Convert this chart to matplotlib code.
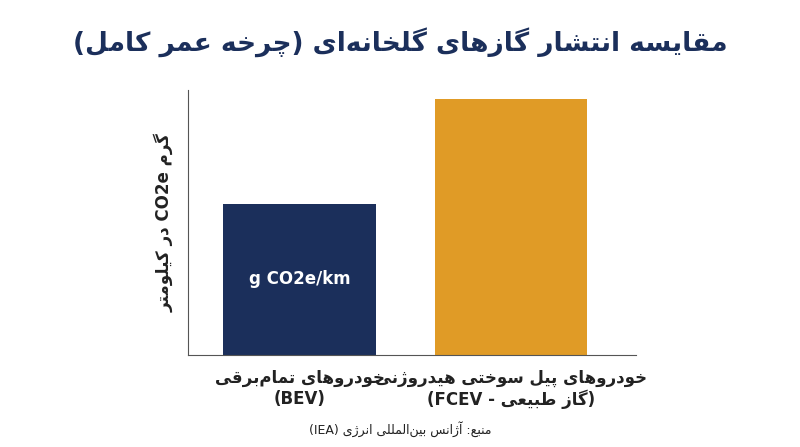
import re
import matplotlib
matplotlib.use("Agg")
import matplotlib.pyplot as plt

# --- data ---
categories = ["خودروهای تمام‌برقی\n(BEV)", "خودروهای پیل سوختی هیدروژنی\n(گاز طبیعی - FCEV)"]
values = [151, 256]          # relative emissions (no scale shown)
bar_colors = ["#1b2f5b", "#e09b26"]
title = "مقایسه انتشار گازهای گلخانه‌ای (چرخه عمر کامل)"
ylabel = "گرم CO2e در کیلومتر"
bar_note = "g CO2e/km"
source = "منبع: آژانس بین‌المللی انرژی (IEA)"

# --- minimal Persian shaping + visual reordering ---
FORMS = {  # isolated, final, initial, medial
    'ا': (0xFE8D, 0xFE8E), 'آ': (0xFE81, 0xFE82), 'د': (0xFEA9, 0xFEAA),
    'ر': (0xFEAD, 0xFEAE), 'ز': (0xFEAF, 0xFEB0), 'ژ': (0xFB8A, 0xFB8B),
    'و': (0xFEED, 0xFEEE),
    'ب': (0xFE8F, 0xFE90, 0xFE91, 0xFE92), 'پ': (0xFB56, 0xFB57, 0xFB58, 0xFB59),
    'ت': (0xFE95, 0xFE96, 0xFE97, 0xFE98), 'چ': (0xFB7A, 0xFB7B, 0xFB7C, 0xFB7D),
    'خ': (0xFEA5, 0xFEA6, 0xFEA7, 0xFEA8), 'س': (0xFEB1, 0xFEB2, 0xFEB3, 0xFEB4),
    'ش': (0xFEB5, 0xFEB6, 0xFEB7, 0xFEB8), 'ط': (0xFEC1, 0xFEC2, 0xFEC3, 0xFEC4),
    'ع': (0xFEC9, 0xFECA, 0xFECB, 0xFECC), 'ق': (0xFED5, 0xFED6, 0xFED7, 0xFED8),
    'ک': (0xFB8E, 0xFB8F, 0xFB90, 0xFB91), 'گ': (0xFB92, 0xFB93, 0xFB94, 0xFB95),
    'ل': (0xFEDD, 0xFEDE, 0xFEDF, 0xFEE0), 'م': (0xFEE1, 0xFEE2, 0xFEE3, 0xFEE4),
    'ن': (0xFEE5, 0xFEE6, 0xFEE7, 0xFEE8), 'ه': (0xFEE9, 0xFEEA, 0xFEEB, 0xFEEC),
    'ی': (0xFBFC, 0xFBFD, 0xFBFE, 0xFBFF), 'ئ': (0xFE89, 0xFE8A, 0xFE8B, 0xFE8C),
}


def shape(s):
    out = []
    for i, c in enumerate(s):
        if c not in FORMS:
            if c != '\u200c':
                out.append(c)
            continue
        prev = s[i - 1] if i > 0 else ''
        nxt = s[i + 1] if i + 1 < len(s) else ''
        join_prev = prev in FORMS and len(FORMS[prev]) == 4
        join_next = len(FORMS[c]) == 4 and nxt in FORMS
        f = FORMS[c]
        if join_prev and join_next:
            code = f[3]
        elif join_prev:
            code = f[1]
        elif join_next:
            code = f[2]
        else:
            code = f[0]
        out.append(chr(code))
    return ''.join(out)


MIRROR = {'(': ')', ')': '('}


def fa(s):
    lines = []
    for line in s.split('\n'):
        line = shape(line)
        runs = re.findall(r'[A-Za-z0-9/]+|[^A-Za-z0-9/]+', line)
        vis = []
        for r in reversed(runs):
            if re.match(r'[A-Za-z0-9/]', r):
                vis.append(r)
            else:
                vis.append(''.join(MIRROR.get(ch, ch) for ch in reversed(r)))
        lines.append(''.join(vis))
    return '\n'.join(lines)


plt.rcParams['font.family'] = ['DejaVu Sans']
navy = "#1b2f5b"

fig = plt.figure(figsize=(8, 4.47), dpi=100)
ax = fig.add_axes([0.235, 0.206, 0.56, 0.593])

x = list(range(len(categories)))
ax.bar(x, values, width=0.72, color=bar_colors)
ax.set_xlim(-0.527, 1.59)
ax.set_ylim(0, 265)
ax.set_xticks(x)
ax.set_xticklabels([fa(c) for c in categories], fontsize=12, fontweight='bold', color="#222222")
ax.tick_params(axis='x', length=0, pad=10)
ax.set_yticks([])
for side in ['top', 'right']:
    ax.spines[side].set_visible(False)
for side in ['left', 'bottom']:
    ax.spines[side].set_color("#555555")
ax.set_ylabel(fa(ylabel), fontsize=12, fontweight='bold', color="#222222", labelpad=10)

ax.text(0, values[0] * 0.5, bar_note, color='white', fontsize=12, fontweight='bold',
        ha='center', va='center')

fig.text(0.5, 0.905, fa(title), ha='center', va='center', fontsize=19,
         fontweight='bold', color=navy)
fig.text(0.5, 0.04, fa(source), ha='center', va='center', fontsize=9, color="#222222")

fig.savefig("out.png", dpi=100, facecolor='white')
